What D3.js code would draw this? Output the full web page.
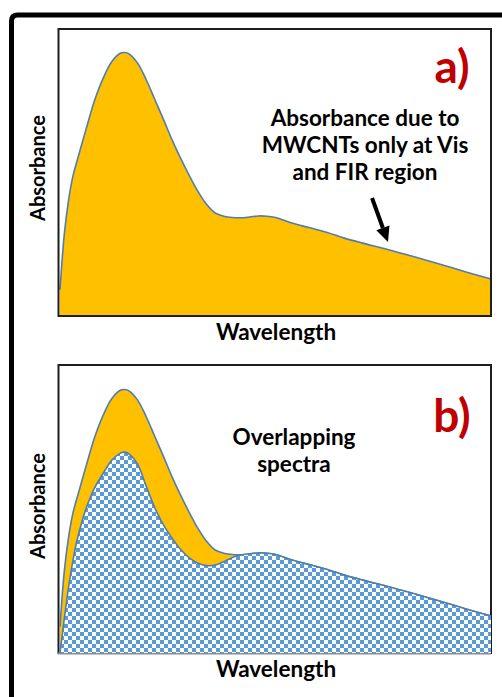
<!DOCTYPE html>
<html><head><meta charset="utf-8">
<script src="https://cdn.jsdelivr.net/npm/d3@7"></script>
<style>html,body{margin:0;padding:0;background:#fff;}svg{display:block;}</style>
</head><body>
<script>
// ---- data (arbitrary wavelength units 0..100, absorbance normalised 0..1) ----
const wavelength = [0,1,2,3,4,6,8,10,12,14,15,16,18,20,22,24,26,28,30,32,34,36,38,40,42,44,46,48,50,54,58,62,66,70,76,82,88,94,100];
const mwcntAbs   = [0.10,0.31,0.44,0.53,0.59,0.705,0.815,0.90,0.963,0.995,0.998,0.993,0.958,0.895,0.82,0.745,0.667,0.597,0.532,0.472,0.423,0.39,0.378,0.373,0.372,0.375,0.379,0.378,0.373,0.351,0.334,0.316,0.295,0.277,0.252,0.225,0.197,0.168,0.14];
const otherAbs   = [0.0,0.13,0.25,0.35,0.43,0.545,0.625,0.68,0.73,0.757,0.761,0.754,0.715,0.632,0.55,0.485,0.435,0.392,0.36,0.34,0.331,0.333,0.346,0.362,0.372,0.376,0.379,0.378,0.373,0.351,0.334,0.316,0.295,0.277,0.252,0.225,0.197,0.168,0.14];
const panelLabels = ["a)","b)"];
const noteA = ["Absorbance due to","MWCNTs only at Vis","and FIR region"];
const noteB = ["Overlapping","spectra"];
const xTitle = "Wavelength", yTitle = "Absorbance";

const W = 502, H = 697;
const svg = d3.select("body").append("svg").attr("width",W).attr("height",H);
const defs = svg.append("defs");
const pat = defs.append("pattern").attr("id","checker").attr("patternUnits","userSpaceOnUse")
  .attr("width",8).attr("height",8);
pat.append("rect").attr("width",8).attr("height",8).attr("fill","#ffffff");
pat.append("rect").attr("width",4).attr("height",4).attr("fill","#5b9bd5");
pat.append("rect").attr("x",4).attr("y",4).attr("width",4).attr("height",4).attr("fill","#5b9bd5");

const FONT = "Lato, 'Open Sans', sans-serif";
const x = d3.scaleLinear().domain([0,100]).range([60,491]);
const yA = d3.scaleLinear().domain([0,1]).range([316,52]);
const yB = d3.scaleLinear().domain([0,1]).range([653,389]);
const CURVE = d3.curveCatmullRom.alpha(0.5);

// outer frame
svg.append("path").attr("d","M11.5,697 L11.5,21 Q11.5,15 17.5,15 L502,15")
  .attr("fill","none").attr("stroke","#000").attr("stroke-width",5);

function areaGen(y, vals){
  return d3.area().x((d,i)=>x(wavelength[i])).y0(y(0)).y1((d,i)=>y(vals[i])).curve(CURVE);
}
function lineGen(y, vals){
  return d3.line().x((d,i)=>x(wavelength[i])).y((d,i)=>y(vals[i])).curve(CURVE);
}
const LINE = "#4f7db0";

// ---- panel a ----
svg.append("path").datum(mwcntAbs).attr("d",areaGen(yA,mwcntAbs)).attr("fill","#ffc000");
svg.append("path").datum(mwcntAbs).attr("d",lineGen(yA,mwcntAbs)).attr("fill","none").attr("stroke",LINE).attr("stroke-width",1.6);
svg.append("rect").attr("x",58.5).attr("y",29).attr("width",491-58.5).attr("height",316-29)
  .attr("fill","none").attr("stroke","#1e1e1e").attr("stroke-width",2);

// ---- panel b ----
svg.append("rect").attr("x",58.5).attr("y",365).attr("width",491-58.5).attr("height",653-365)
  .attr("fill","none").attr("stroke","#1e1e1e").attr("stroke-width",2);
svg.append("line").attr("x1",58).attr("x2",491).attr("y1",653.5).attr("y2",653.5).attr("stroke","#8c8c8c").attr("stroke-width",2);
svg.append("path").datum(mwcntAbs).attr("d",areaGen(yB,mwcntAbs)).attr("fill","#ffc000");
svg.append("path").datum(mwcntAbs).attr("d",lineGen(yB,mwcntAbs)).attr("fill","none").attr("stroke",LINE).attr("stroke-width",1.6);
svg.append("path").datum(otherAbs).attr("d",areaGen(yB,otherAbs)).attr("fill","url(#checker)");
svg.append("path").datum(otherAbs).attr("d",lineGen(yB,otherAbs)).attr("fill","none").attr("stroke",LINE).attr("stroke-width",1.6);

// ---- labels ----
const lab = (t, px, py, size, fill, anchor) => svg.append("text").attr("x",px).attr("y",py).text(t)
  .attr("font-family",FONT).attr("font-weight","bold").attr("font-size",size)
  .attr("fill",fill||"#000").attr("text-anchor",anchor||"middle");

lab(panelLabels[0], 452, 83, 46, "#c00000");
lab(panelLabels[1], 452, 432, 46, "#c00000");
noteA.forEach((t,i)=>lab(t, 365, 126 + i*27, 22.5));
noteB.forEach((t,i)=>lab(t, 294, 445 + i*27, 22.5));
lab(xTitle, 276, 340, 22.5);
lab(xTitle, 276, 677, 22.5);
[168, 506].forEach(cy => svg.append("text").text(yTitle)
  .attr("transform",`translate(45,${cy}) rotate(-90)`)
  .attr("font-family",FONT).attr("font-weight","bold").attr("font-size",20).attr("text-anchor","middle"));

// arrow (annotation, in data coordinates)
const arrowFrom = [72.4, 0.447], arrowTo = [76.1, 0.28];
const x1 = x(arrowFrom[0]), y1 = yA(arrowFrom[1]), x2 = x(arrowTo[0]), y2 = yA(arrowTo[1]);
const ang = Math.atan2(y2-y1, x2-x1), hl = 15, hw = 7;
const bx = x2 - hl*Math.cos(ang), by = y2 - hl*Math.sin(ang);
svg.append("line").attr("x1",x1).attr("y1",y1).attr("x2",bx).attr("y2",by).attr("stroke","#000").attr("stroke-width",4);
svg.append("path").attr("d",`M${x2},${y2} L${bx + hw*Math.sin(ang)},${by - hw*Math.cos(ang)} L${bx - hw*Math.sin(ang)},${by + hw*Math.cos(ang)} Z`).attr("fill","#000");
</script>
</body></html>
